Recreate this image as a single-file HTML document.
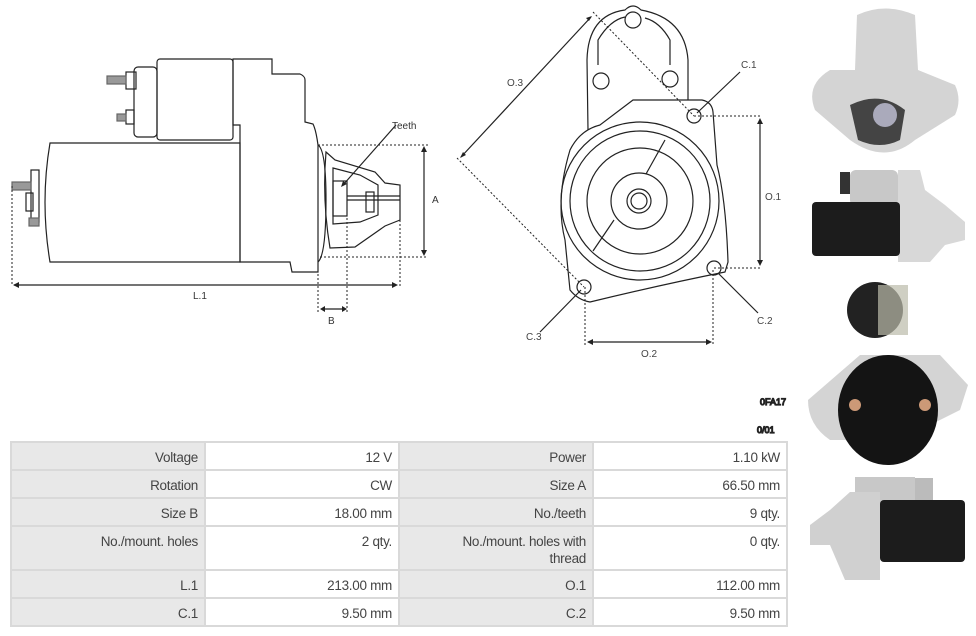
<!DOCTYPE html>
<html><head><meta charset="utf-8"><style>
body{margin:0;width:976px;height:636px;background:#fff;position:relative;overflow:hidden;font-family:"Liberation Sans",sans-serif}
svg{position:absolute;left:0;top:0}
table{position:absolute;left:10px;top:441px;border-collapse:collapse;font-size:13.5px;color:#444;table-layout:fixed;width:778px;letter-spacing:-0.3px}
td{border:2px solid #d9d9d9;width:194px;padding:0 6px;text-align:right;vertical-align:top;height:28px;line-height:17px;padding-top:6px;box-sizing:border-box}
td.l{background:#e8e8e8}
tr.t td{height:44px}
</style></head><body>
<svg width="976" height="636" viewBox="0 0 976 636" fill="none" stroke="#222" stroke-width="1.2" font-family="Liberation Sans, sans-serif">
<g>
<rect x="134" y="67" width="23" height="70" rx="4"/>
<rect x="157" y="59" width="76" height="81" rx="3"/>
<rect x="126" y="72" width="10" height="17"/>
<rect x="107" y="76" width="19" height="8" fill="#999" stroke="#666"/>
<rect x="126" y="110" width="8" height="14"/>
<rect x="117" y="114" width="9" height="7" fill="#999" stroke="#666"/>
<path d="M50 143 L240 143 L240 262 L50 262 Q40 202 50 143Z"/>
<path d="M233 59 L272 59 L272 74 L300 74 Q305 76 305 80 L305 122 L313 124 Q316 130 318 145 L318 272 L292 272 L290 262 L240 262 L240 125 L233 125 Z"/>
<path d="M318 145 Q326 150 326 200 Q326 255 318 262"/>
<path d="M326 152 L335 160 L375 172 L385 183 L400 185 L400 220 L385 226 L355 247 L330 248 Q322 200 326 152Z"/>
<path d="M333 168 L360 175 L378 185 L378 215 L360 222 L333 224 Z"/>
<rect x="333" y="181" width="14" height="35"/>
<rect x="366" y="192" width="8" height="20"/>
<line x1="347" y1="196" x2="400" y2="196"/><line x1="347" y1="200" x2="400" y2="200"/>
<rect x="31" y="170" width="8" height="52"/>
<rect x="26" y="193" width="7" height="18"/>
<rect x="12" y="182" width="19" height="8" fill="#999" stroke="#666"/>
<rect x="29" y="218" width="10" height="8" fill="#999" stroke="#666"/>
<g stroke-dasharray="2,2" stroke-width="1">
<line x1="12" y1="186" x2="12" y2="286"/><line x1="318" y1="262" x2="318" y2="312"/><line x1="347" y1="190" x2="347" y2="312"/><line x1="400" y1="200" x2="400" y2="286"/>
<line x1="318" y1="145" x2="428" y2="145"/><line x1="320" y1="257" x2="428" y2="257"/>
</g>
<line x1="14" y1="285" x2="396" y2="285"/>
<line x1="424" y1="148" x2="424" y2="254"/>
<line x1="322" y1="309" x2="345" y2="309"/>
<line x1="396" y1="125" x2="343" y2="185"/>
<g fill="#222" stroke="none" font-size="10">
<path d="M13 285 l6 -3 v6z M398 285 l-6 -3 v6z M424 146 l-3 6 h6z M424 256 l-3 -6 h6z M320 309 l5 -3 v6z M347 309 l-5 -3 v6z M341 187 l2 -6 l4 3z"/>
<text x="193" y="299" fill="#333">L.1</text><text x="328" y="324" fill="#333">B</text><text x="432" y="203" fill="#333">A</text><text x="392" y="129" fill="#333">Teeth</text>
</g>
</g>
<g>
<path d="M588 130 L587 60 Q588 15 625 10 Q633 2 641 10 Q685 18 688 60 L688 100"/>
<path d="M598 65 L598 40 Q610 20 625 17 M670 65 L670 40 Q660 22 645 18"/>
<circle cx="633" cy="20" r="8"/><circle cx="601" cy="81" r="8"/><circle cx="670" cy="79" r="8"/>
<path d="M633 100 L702 100 Q712 102 713 112 L717 165 Q726 200 728 262 L725 272 Q660 285 590 302 Q578 300 570 290 L565 240 Q555 200 570 150 Q580 130 600 125 Z"/>
<circle cx="640" cy="201" r="79"/><circle cx="640" cy="201" r="70"/><circle cx="640" cy="201" r="53"/>
<circle cx="639" cy="201" r="28"/><circle cx="639" cy="201" r="12"/><circle cx="639" cy="201" r="8"/>
<line x1="665" y1="140" x2="646" y2="174"/><line x1="614" y1="220" x2="593" y2="251"/>
<circle cx="694" cy="116" r="7"/><circle cx="714" cy="268" r="7"/><circle cx="584" cy="287" r="7"/>
<g stroke-dasharray="2,2" stroke-width="1">
<line x1="593" y1="12" x2="694" y2="116"/><line x1="457" y1="158" x2="584" y2="287"/>
<line x1="694" y1="116" x2="762" y2="116"/><line x1="714" y1="268" x2="762" y2="268"/>
<line x1="585" y1="287" x2="585" y2="346"/><line x1="713" y1="270" x2="713" y2="346"/>
</g>
<line x1="461" y1="157" x2="591" y2="17"/>
<line x1="760" y1="120" x2="760" y2="264"/>
<line x1="588" y1="342" x2="710" y2="342"/>
<line x1="740" y1="72" x2="697" y2="113"/><line x1="758" y1="313" x2="718" y2="273"/><line x1="540" y1="332" x2="581" y2="290"/>
<g fill="#222" stroke="none" font-size="10">
<path d="M460 158 l3 -6 l3 3z M592 16 l-6 2 l3 3z M760 118 l-3 6 h6z M760 266 l-3 -6 h6z M587 342 l6 -3 v6z M712 342 l-6 -3 v6z"/>
<text x="507" y="86" fill="#444">O.3</text><text x="741" y="68" fill="#444">C.1</text><text x="765" y="200" fill="#444">O.1</text><text x="757" y="324" fill="#444">C.2</text><text x="526" y="340" fill="#444">C.3</text><text x="641" y="357" fill="#444">O.2</text>
</g>
</g>
<g stroke="none">
<path d="M857 15 Q885 2 915 15 L918 70 L955 85 Q962 100 955 115 L915 140 Q885 165 850 140 L815 110 Q805 85 830 70 L855 70Z" fill="#d4d4d4"/>
<path d="M850 105 Q880 90 905 110 L900 140 Q880 150 858 140Z" fill="#444"/>
<circle cx="885" cy="115" r="12" fill="#aab"/>
<rect x="850" y="170" width="48" height="36" rx="6" fill="#c8c8c8"/>
<path d="M898 170 L920 170 L925 190 L945 205 L965 222 L965 240 L945 245 L930 262 L898 262Z" fill="#d8d8d8"/>
<rect x="812" y="202" width="88" height="54" rx="4" fill="#1c1c1c"/>
<rect x="840" y="172" width="10" height="22" fill="#333"/>
<circle cx="875" cy="310" r="28" fill="#222"/>
<path d="M808 400 L860 355 L940 355 L968 385 L960 410 L900 440 L830 440 Q808 425 808 400Z" fill="#d4d4d4"/>
<ellipse cx="888" cy="410" rx="50" ry="55" fill="#141414"/>
<rect x="878" y="285" width="30" height="50" fill="#bba" opacity=".7"/>
<circle cx="855" cy="405" r="6" fill="#c97"/><circle cx="925" cy="405" r="6" fill="#c97"/>
<path d="M855 477 L915 477 L915 520 L855 520Z" fill="#c8c8c8"/>
<path d="M810 525 L830 510 L850 492 L880 492 L880 580 L845 580 L830 545 L810 545Z" fill="#d0d0d0"/>
<rect x="880" y="500" width="85" height="62" rx="4" fill="#1c1c1c"/>
<rect x="915" y="478" width="18" height="22" fill="#bbb"/>
</g>
<g fill="#bbb" font-size="9"><text x="760" y="405">0FA17</text><text x="757" y="433">0/01</text></g>
</svg>
<table>
<tr><td class="l">Voltage</td><td>12 V</td><td class="l">Power</td><td>1.10 kW</td></tr>
<tr><td class="l">Rotation</td><td>CW</td><td class="l">Size A</td><td>66.50 mm</td></tr>
<tr><td class="l">Size B</td><td>18.00 mm</td><td class="l">No./teeth</td><td>9 qty.</td></tr>
<tr class="t"><td class="l">No./mount. holes</td><td>2 qty.</td><td class="l">No./mount. holes with<br>thread</td><td>0 qty.</td></tr>
<tr><td class="l">L.1</td><td>213.00 mm</td><td class="l">O.1</td><td>112.00 mm</td></tr>
<tr><td class="l">C.1</td><td>9.50 mm</td><td class="l">C.2</td><td>9.50 mm</td></tr>
</table>
</body></html>
